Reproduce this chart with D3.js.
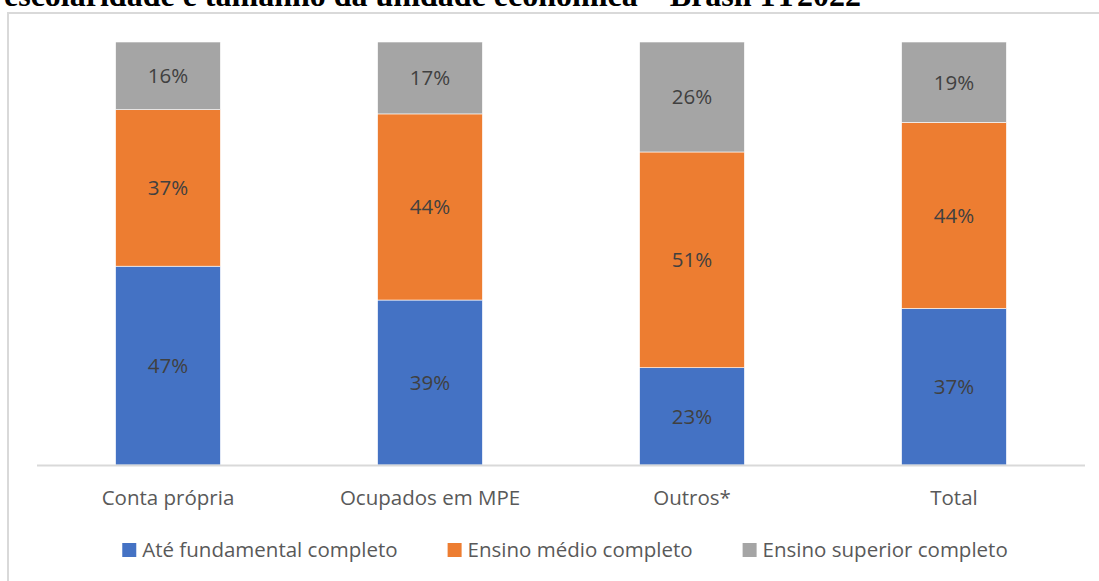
<!DOCTYPE html>
<html>
<head>
<meta charset="utf-8">
<script src="https://cdn.jsdelivr.net/npm/d3@7"></script>
<style>
  html, body { margin: 0; padding: 0; background: #fff; }
  svg { display: block; }
</style>
</head>
<body>
<svg id="chart" width="1099" height="581"></svg>
<script>
// Escolaridade por categoria de ocupação – Brasil 1T2022
const categories = ["Conta própria", "Ocupados em MPE", "Outros*", "Total"];
const seriesNames = ["Até fundamental completo", "Ensino médio completo", "Ensino superior completo"];
const ateFundamental = [47, 39, 23, 37];
const ensinoMedio = [37, 44, 51, 44];
const ensinoSuperior = [16, 17, 26, 19];
const seriesColors = ["#4472C4", "#ED7D31", "#A5A5A5"];
const titleText = "escolaridade e tamanho da unidade econômica – Brasil 1T2022";

const svg = d3.select("#chart");
const W = 1099, H = 581;
const sans = "'Open Sans', 'Noto Sans', sans-serif";

// Title (its upper part runs above the top edge)
svg.append("text")
  .attr("x", 4)
  .attr("y", 6)
  .attr("font-family", "'Liberation Serif', 'Times New Roman', serif")
  .attr("font-weight", "bold")
  .attr("font-size", 32)
  .attr("fill", "#000")
  .text(titleText);

// Chart frame
svg.append("path")
  .attr("d", `M8,${H + 2} V13 H${W + 2}`)
  .attr("fill", "none")
  .attr("stroke", "#D9D9D9")
  .attr("stroke-width", 2);

const plot = { left: 37, right: 1085, top: 42, bottom: 465 };

const x = d3.scaleBand()
  .domain(categories)
  .range([plot.left, plot.right])
  .paddingInner(0.6)
  .paddingOuter(0.3);

const y = d3.scaleLinear()
  .domain([0, 100])
  .range([plot.bottom, plot.top]);

const rows = categories.map((c, i) => ({
  cat: c,
  [seriesNames[0]]: ateFundamental[i],
  [seriesNames[1]]: ensinoMedio[i],
  [seriesNames[2]]: ensinoSuperior[i]
}));

const stacked = d3.stack().keys(seriesNames)(rows);

const layers = svg.append("g").selectAll("g")
  .data(stacked)
  .join("g")
  .attr("fill", (d, i) => seriesColors[i]);

layers.selectAll("rect")
  .data(d => d)
  .join("rect")
  .attr("x", d => x(d.data.cat))
  .attr("width", x.bandwidth())
  .attr("y", d => y(d[1]))
  .attr("height", d => y(d[0]) - y(d[1]))
  .attr("stroke", "#fff")
  .attr("stroke-width", 0.6);

// Value labels
layers.selectAll("text")
  .data(d => d.map(v => ({ v, key: d.key })))
  .join("text")
  .attr("x", d => x(d.v.data.cat) + x.bandwidth() / 2)
  .attr("y", d => (y(d.v[0]) + y(d.v[1])) / 2)
  .attr("dy", "0.36em")
  .attr("text-anchor", "middle")
  .attr("font-family", sans)
  .attr("font-size", 20.5)
  .attr("fill", "#404040")
  .text(d => (d.v[1] - d.v[0]) + "%");

// Category axis
const xAxis = svg.append("g")
  .attr("transform", `translate(0,${plot.bottom})`)
  .call(d3.axisBottom(x).tickSize(0).tickPadding(0));
xAxis.select(".domain")
  .attr("d", `M${plot.left},0.5H${plot.right}`)
  .attr("stroke", "#D9D9D9")
  .attr("stroke-width", 2);
xAxis.selectAll(".tick text")
  .attr("y", 39.5)
  .attr("dy", 0)
  .attr("font-family", sans)
  .attr("font-size", 20.5)
  .attr("fill", "#595959");

// Legend
const legend = svg.append("g");
const items = legend.selectAll("g")
  .data(seriesNames)
  .join("g");
items.append("rect")
  .attr("width", 14)
  .attr("height", 14)
  .attr("y", -14)
  .attr("fill", (d, i) => seriesColors[i]);
items.append("text")
  .attr("x", 20)
  .attr("y", 0)
  .attr("font-family", sans)
  .attr("font-size", 20.5)
  .attr("fill", "#595959")
  .text(d => d);

let offset = 0;
items.each(function () {
  const g = d3.select(this);
  g.attr("transform", `translate(${offset},0)`);
  offset += 20 + g.select("text").node().getComputedTextLength() + 50;
});
const legendWidth = offset - 50;
legend.attr("transform", `translate(${565 - legendWidth / 2},557)`);
</script>
</body>
</html>
